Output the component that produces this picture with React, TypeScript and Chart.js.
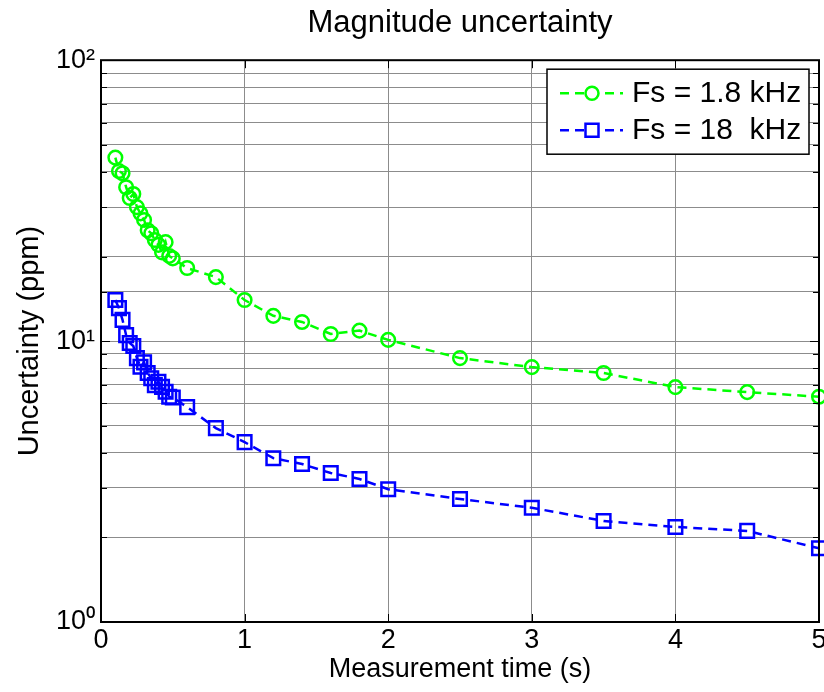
import React, { useEffect, useRef } from 'react';
import { Chart, registerables } from 'chart.js';

Chart.register(...registerables);

// Measurement times (s)
const measurementTime = [
  0.1, 0.125, 0.15, 0.175, 0.2, 0.225, 0.25, 0.275, 0.3, 0.325, 0.35, 0.375, 0.4,
  0.425, 0.45, 0.475, 0.5, 0.6, 0.8, 1.0, 1.2, 1.4, 1.6, 1.8, 2.0, 2.5, 3.0, 3.5,
  4.0, 4.5, 5.0,
];

// Uncertainty (ppm), Fs = 1.8 kHz
const uncertaintyFs1k8 = [
  45.0, 40.3, 39.6, 35.3, 32.3, 33.4, 30.0, 28.5, 27.0, 24.8, 24.2, 22.9, 22.0,
  20.7, 22.5, 20.1, 19.7, 18.2, 16.9, 14.0, 12.3, 11.7, 10.6, 10.9, 10.1, 8.7,
  8.08, 7.7, 6.86, 6.58, 6.34,
];

// Uncertainty (ppm), Fs = 18 kHz
const uncertaintyFs18k = [
  14.0, 13.1, 11.9, 10.5, 9.84, 9.6, 8.7, 8.1, 8.4, 7.7, 7.37, 6.97, 7.17, 6.87,
  6.6, 6.34, 6.3, 5.82, 4.9, 4.37, 3.83, 3.65, 3.39, 3.23, 2.97, 2.74, 2.55, 2.29,
  2.18, 2.11, 1.83,
];

const seriesLabels = ['Fs = 1.8 kHz', 'Fs = 18  kHz'];
const seriesColors = ['#00ff00', '#0000ff'];
const xTickValues = [0, 1, 2, 3, 4, 5];
const yDecadeValues = [1, 10, 100];
const yDecadeLabels = ['10\u2070', '10\u00b9', '10\u00b2'];

const FONT = "'Liberation Sans', Arial, Helvetica, sans-serif";
const DASH = [9, 6];

const framePlugin = {
  id: 'frameAndLegend',
  afterDraw(chart: any) {
    const { ctx, chartArea: a, scales } = chart;
    ctx.save();
    // inner tick marks
    ctx.strokeStyle = '#000';
    ctx.lineWidth = 1;
    ctx.setLineDash([]);
    const ys = scales.y;
    ys.ticks.forEach((t: any) => {
      const py = Math.round(ys.getPixelForValue(t.value)) + 0.5;
      const len = yDecadeValues.includes(t.value) ? 9 : 6;
      ctx.beginPath();
      ctx.moveTo(a.left, py);
      ctx.lineTo(a.left + len, py);
      ctx.moveTo(a.right, py);
      ctx.lineTo(a.right - len, py);
      ctx.stroke();
    });
    const xs = scales.x;
    xTickValues.forEach((v) => {
      const px = Math.round(xs.getPixelForValue(v)) + 0.5;
      ctx.beginPath();
      ctx.moveTo(px, a.bottom);
      ctx.lineTo(px, a.bottom - 8);
      ctx.moveTo(px, a.top);
      ctx.lineTo(px, a.top + 8);
      ctx.stroke();
    });
    // frame
    ctx.lineWidth = 2;
    ctx.strokeRect(a.left, a.top, a.right - a.left, a.bottom - a.top);

    // legend
    const bw = 262;
    const bh = 85;
    const bx = a.right - 10 - bw;
    const by = a.top + 9;
    ctx.fillStyle = '#fff';
    ctx.fillRect(bx, by, bw, bh);
    ctx.lineWidth = 1.5;
    ctx.strokeStyle = '#000';
    ctx.strokeRect(bx, by, bw, bh);
    const rows = [by + 24, by + 61];
    rows.forEach((ry, i) => {
      ctx.strokeStyle = seriesColors[i];
      ctx.lineWidth = 2.5;
      ctx.setLineDash(DASH);
      ctx.beginPath();
      ctx.moveTo(bx + 13, ry);
      ctx.lineTo(bx + 76, ry);
      ctx.stroke();
      ctx.setLineDash([]);
      ctx.beginPath();
      if (i === 0) {
        ctx.arc(bx + 45, ry, 6.5, 0, Math.PI * 2);
      } else {
        ctx.rect(bx + 45 - 6.5, ry - 6.5, 13, 13);
      }
      ctx.fillStyle = '#fff';
      ctx.fill();
      ctx.stroke();
      ctx.fillStyle = '#000';
      ctx.font = `30px ${FONT}`;
      ctx.textBaseline = 'middle';
      ctx.textAlign = 'left';
      ctx.fillText(seriesLabels[i], bx + 85, ry + 1);
    });
    ctx.restore();
  },
};

export default function App() {
  const canvasRef = useRef<HTMLCanvasElement | null>(null);

  useEffect(() => {
    const canvas = canvasRef.current;
    if (!canvas) return;
    Chart.defaults.color = '#000';
    Chart.defaults.font.family = FONT;

    const toPoints = (ys: number[]) => measurementTime.map((x, i) => ({ x, y: ys[i] }));

    const chart = new Chart(canvas, {
      type: 'line',
      data: {
        datasets: [
          {
            label: seriesLabels[0],
            data: toPoints(uncertaintyFs1k8),
            borderColor: seriesColors[0],
            backgroundColor: 'rgba(0,0,0,0)',
            borderWidth: 2.5,
            borderDash: DASH,
            pointStyle: 'circle',
            pointRadius: 6.8,
            pointBorderWidth: 2.5,
            pointBorderColor: seriesColors[0],
            pointBackgroundColor: 'rgba(0,0,0,0)',
            tension: 0,
            clip: false as any,
          },
          {
            label: seriesLabels[1],
            data: toPoints(uncertaintyFs18k),
            borderColor: seriesColors[1],
            backgroundColor: 'rgba(0,0,0,0)',
            borderWidth: 2.5,
            borderDash: DASH,
            pointStyle: 'rect',
            pointRadius: 9.6,
            pointBorderWidth: 2.5,
            pointBorderColor: seriesColors[1],
            pointBackgroundColor: 'rgba(0,0,0,0)',
            tension: 0,
            clip: false as any,
          },
        ],
      },
      options: {
        responsive: false,
        animation: false,
        layout: { padding: { left: 0, right: 13, top: 0, bottom: 0 } },
        plugins: {
          legend: { display: false },
          tooltip: { enabled: false },
          title: {
            display: true,
            fullSize: false,
            text: 'Magnitude uncertainty',
            color: '#000',
            font: { size: 31, weight: 'normal', family: FONT, lineHeight: 1.2 },
            padding: { top: 5, bottom: 18 },
          },
        },
        scales: {
          x: {
            type: 'linear',
            min: 0,
            max: 5,
            afterFit: (s: any) => {
              s.height = 70;
            },
            ticks: {
              stepSize: 1,
              padding: 2,
              font: { size: 27, family: FONT },
              color: '#000',
              maxRotation: 0,
            },
            grid: {
              color: '#8c8c8c',
              lineWidth: 1,
              drawTicks: false,
            },
            border: { display: false },
            title: {
              display: true,
              text: 'Measurement time (s)',
              color: '#000',
              font: { size: 27, family: FONT, lineHeight: 1.2 },
              padding: { top: 0, bottom: 6 },
            },
          },
          y: {
            type: 'logarithmic',
            min: 1,
            max: 100,
            afterFit: (s: any) => {
              s.width = 101;
            },
            ticks: {
              padding: 6,
              font: { size: 27, family: FONT },
              color: '#000',
              autoSkip: false,
              callback: (v: any) => {
                const idx = yDecadeValues.indexOf(Number(v));
                return idx >= 0 ? yDecadeLabels[idx] : '';
              },
            },
            grid: {
              color: '#8c8c8c',
              lineWidth: 1,
              drawTicks: false,
            },
            border: { display: false },
            title: {
              display: true,
              text: 'Uncertainty (ppm)',
              color: '#000',
              font: { size: 29, family: FONT, lineHeight: 1.2 },
              padding: { top: 13, bottom: 0 },
            },
          },
        },
      },
      plugins: [framePlugin],
    });

    return () => {
      chart.destroy();
    };
  }, []);

  return (
    <div
      style={{
        position: 'fixed',
        left: 0,
        top: 0,
        width: 824,
        height: 692,
        overflow: 'hidden',
        background: '#fff',
      }}
    >
      <canvas ref={canvasRef} width={832} height={692} style={{ display: 'block' }} />
    </div>
  );
}
